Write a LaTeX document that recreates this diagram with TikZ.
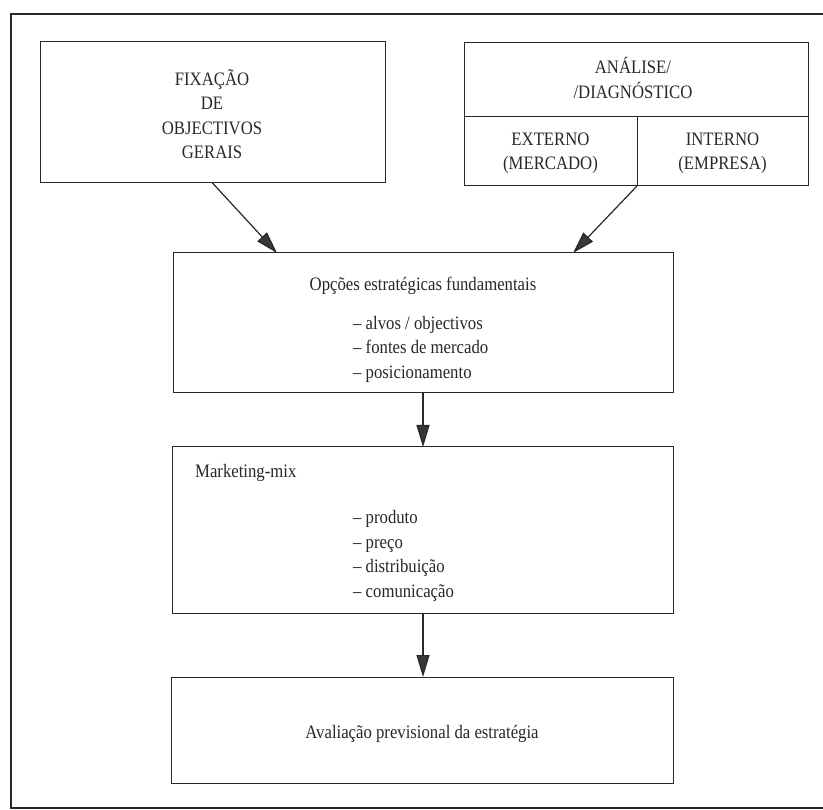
\documentclass[tikz,border=0pt]{standalone}
\usepackage{fontspec}
\setmainfont{Liberation Serif}[FakeStretch=0.88]
\usetikzlibrary{arrows.meta,calc}
\definecolor{ink}{RGB}{40,40,40}
\definecolor{headgray}{RGB}{55,55,55}
\begin{document}
\begin{tikzpicture}[x=1pt,y=-1pt,
  boxnode/.style={draw=ink, line width=1pt, inner sep=0pt, outer sep=0pt, rectangle},
  txt/.style={inner sep=0pt, text=ink, font=\fontsize{19}{24.5}\selectfont},
  flow/.style={draw=ink, line width=1.2pt, -{Triangle[length=22pt,width=13pt,fill=headgray]}}]
\useasboundingbox (0,0) rectangle (823,810);
\fill[white] (0,0) rectangle (823,810);
% outer frame (open on the right)
\draw[ink, line width=1.4pt] (823,14) -- (11,14) -- (11,808) -- (823,808);
% boxes
\node[boxnode, minimum width=345pt, minimum height=141pt] (box1) at (212.5,112.5) {};
\node[boxnode, minimum width=344pt, minimum height=143pt] (box2) at (636,114.5) {};
\node[boxnode, minimum width=500pt, minimum height=140pt] (box3) at (423,323) {};
\node[boxnode, minimum width=501pt, minimum height=166pt] (box4) at (422.5,530) {};
\node[boxnode, minimum width=502pt, minimum height=106pt] (box5) at (422,730) {};
% dividers of box2
\coordinate (divtop) at (637,117);
\coordinate (div) at (637,186);
\draw[ink, line width=1pt] (box2.west |- divtop) -- (box2.east |- divtop);
\draw[ink, line width=1pt] (divtop) -- (div);
% texts
\node[txt, align=center] (t1) at (212,114) {FIXAÇÃO\\DE\\OBJECTIVOS\\GERAIS};
\node[txt, align=center] (t2) at (633,78) {ANÁLISE/\\/DIAGNÓSTICO};
\node[txt, align=center] (t2a) at (550.5,153) {EXTERNO\\(MERCADO)};
\node[txt, align=center] (t2b) at (722.5,153) {INTERNO\\(EMPRESA)};
\node[txt] (t3) at (423,286) {Opções estratégicas fundamentais};
\node[txt, align=left, anchor=west] (t3l) at (353,349) {– alvos / objectivos\\– fontes de mercado\\– posicionamento};
\node[txt, anchor=west] (t4) at (195,473) {Marketing-mix};
\node[txt, align=left, anchor=west] (t4l) at (353,556) {– produto\\– preço\\– distribuição\\– comunicação};
\node[txt] (t5) at (422,734) {Avaliação previsional da estratégia};
% connectors
\draw[flow] (box1.south) -- ([xshift=104pt]box3.north west);
\draw[flow] (div) -- ([xshift=400pt]box3.north west);
\draw[flow] (box3.south) -- (box4.north -| box3.south);
\draw[flow] (box4.south -| box3.south) -- (box5.north -| box3.south);
\end{tikzpicture}
\end{document}
